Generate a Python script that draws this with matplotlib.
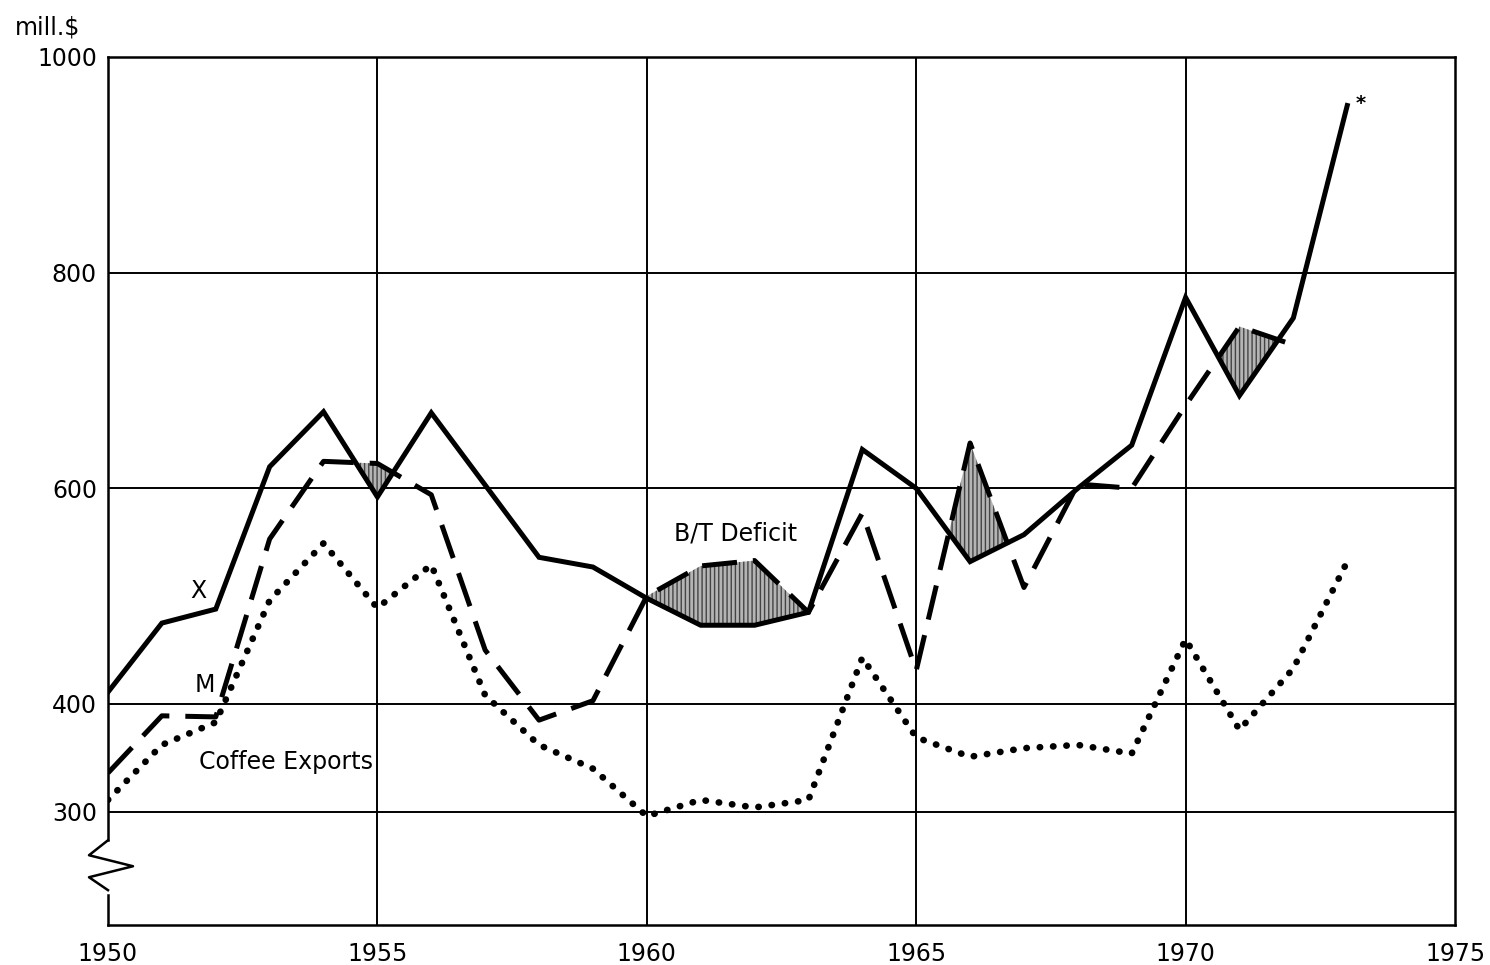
import matplotlib
matplotlib.use("Agg")
import matplotlib.pyplot as plt
import matplotlib.transforms as mtransforms
import numpy as np

# ---- data (mill. $) ----
years_x = list(range(1950, 1974))
exports_X = [411, 475, 488, 620, 671, 592, 670, 603, 536, 527, 498, 473,
             473, 485, 636, 600, 532, 557, 600, 640, 777, 686, 758, 955]
years_m = list(range(1950, 1973))
imports_M = [336, 389, 388, 553, 625, 623, 594, 450, 385, 403, 500, 528,
             533, 485, 577, 431, 642, 508, 604, 600, 677, 750, 733]
years_c = list(range(1950, 1974))
coffee = [311, 362, 383, 496, 549, 489, 529, 408, 362, 340, 296, 311,
          304, 311, 443, 369, 351, 359, 362, 354, 460, 376, 433, 532]

xticks = [1950, 1955, 1960, 1965, 1970, 1975]
yticks = [300, 400, 600, 800, 1000]

plt.rcParams['font.family'] = ['DejaVu Sans']

fig = plt.figure(figsize=(14.9, 9.65), dpi=100)
ax = fig.add_axes([108/1490, 1 - 925/965, (1455-108)/1490, (925-57)/965])
ax.set_xlim(1950, 1975)
ax.set_ylim(195, 1000)

# grid
for xv in xticks[1:-1]:
    ax.axvline(xv, color='black', lw=1.4, zorder=1)
for yv in yticks[:-1]:
    ax.axhline(yv, color='black', lw=1.4, zorder=1)

# deficit shading (M above X)
yrs = np.array(years_m, dtype=float)
xv_ = np.array(exports_X[:len(years_m)], dtype=float)
mv_ = np.array(imports_M, dtype=float)
fine = np.linspace(yrs[0], yrs[-1], 4000)
xf = np.interp(fine, yrs, xv_)
mf = np.interp(fine, yrs, mv_)
mask = (mf > xf) & ~((fine > 1967.5) & (fine < 1968.8))
ax.fill_between(fine, xf, mf, where=mask, facecolor='#b4b4b4',
                edgecolor='#444444', hatch='||||', linewidth=0, zorder=2)

# lines
ax.plot(years_x, exports_X, color='black', lw=3.6, solid_joinstyle='miter', zorder=4)
ax.plot(years_m, imports_M, color='black', lw=3.6, dashes=(7, 3.2),
        dash_capstyle='butt', zorder=4)
ax.plot(years_c, coffee, color='black', lw=4.8, linestyle=(0, (0.05, 1.95)),
        dash_capstyle='round', zorder=4)

# labels
fs = 17
ax.text(1951.67, 505, 'X', fontsize=fs, ha='center', va='center')
ax.text(1951.8, 418, 'M', fontsize=fs, ha='center', va='center')
ax.text(1953.3, 346, 'Coffee Exports', fontsize=fs, ha='center', va='center')
ax.text(1961.64, 558, 'B/T Deficit', fontsize=fs, ha='center', va='center')
ax.text(1973.25, 957, '*', fontsize=14, ha='center', va='center', fontweight='bold')

# axes / spines
ax.spines['left'].set_visible(False)
for s in ['top', 'right', 'bottom']:
    ax.spines[s].set_linewidth(1.8)
    ax.spines[s].set_color('black')

trans = mtransforms.blended_transform_factory(ax.transAxes, ax.transData)
px = 1.0 / 1347.0
ax.plot([0, 0], [1000, 273.6], color='black', lw=1.8, transform=trans,
        clip_on=False, zorder=5)
ax.plot([0, -19*px, 25*px, -19*px, 0], [273.6, 259.7, 249.5, 239.3, 227.3],
        color='black', lw=1.8, transform=trans, clip_on=False, zorder=5)
ax.plot([0, 0], [222.6, 195], color='black', lw=1.8, transform=trans,
        clip_on=False, zorder=5)

ax.set_xticks(xticks)
ax.set_xticklabels([str(t) for t in xticks], fontsize=fs)
ax.set_yticks(yticks)
ax.set_yticklabels([str(t) for t in yticks], fontsize=fs)
ax.tick_params(length=0, pad=8)
ax.tick_params(axis='x', pad=12)

fig.text(15/1490, 1 - 27/965, 'mill.$', fontsize=fs, ha='left', va='center')

fig.savefig('out.png', dpi=100, facecolor='white')
